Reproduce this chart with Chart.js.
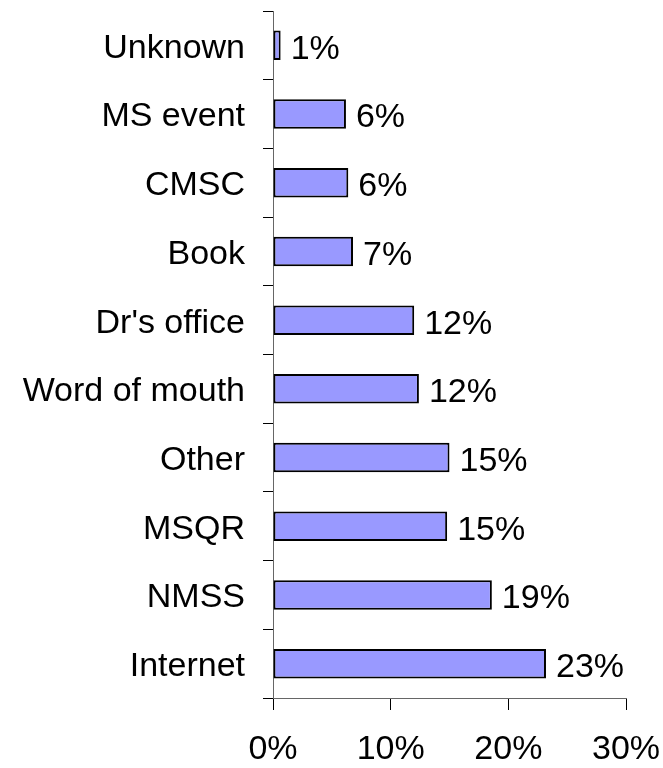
<!DOCTYPE html>
<html>
<head>
<meta charset="utf-8">
<script src="https://cdn.jsdelivr.net/npm/chart.js@4/dist/chart.umd.min.js"></script>
<style>
  html, body { margin: 0; padding: 0; background: #fff; }
  canvas { display: block; }
</style>
</head>
<body>
<canvas id="chart" width="663" height="768"></canvas>
<script>
// categories, top to bottom
const categories = ["Unknown", "MS event", "CMSC", "Book", "Dr's office", "Word of mouth", "Other", "MSQR", "NMSS", "Internet"];
// bar lengths (percent)
const shares = [0.65, 6.2, 6.4, 6.8, 12.0, 12.4, 15.0, 14.8, 18.6, 23.2];
// printed labels next to each bar
const shareLabels = ["1%", "6%", "6%", "7%", "12%", "12%", "15%", "15%", "19%", "23%"];
const xTicks = [0, 10, 20, 30];

const FONT = { family: "'Liberation Sans', Arial, sans-serif", size: 34 };

// --- value labels right of each bar ---
const valueLabels = {
  id: "valueLabels",
  afterDatasetsDraw(chart) {
    const ctx = chart.ctx;
    const meta = chart.getDatasetMeta(0);
    ctx.save();
    ctx.font = `${FONT.size}px ${FONT.family}`;
    ctx.fillStyle = "#000";
    ctx.textAlign = "left";
    ctx.textBaseline = "middle";
    meta.data.forEach((bar, i) => {
      ctx.fillText(shareLabels[i], bar.x + 10, bar.y + 4);
    });
    ctx.restore();
  }
};

new Chart(document.getElementById("chart"), {
  type: "bar",
  data: {
    labels: categories,
    datasets: [{
      data: shares,
      backgroundColor: "#9999FF",
      borderColor: "#000",
      borderWidth: 2,
      borderSkipped: false,
      categoryPercentage: 1,
      barPercentage: 0.43
    }]
  },
  options: {
    indexAxis: "y",
    responsive: false,
    animation: false,
    layout: { padding: { top: 11, right: 37, left: 0, bottom: 0 } },
    plugins: { legend: { display: false }, tooltip: { enabled: false } },
    scales: {
      x: {
        min: 0,
        max: 30,
        afterBuildTicks: (scale) => { scale.ticks = xTicks.map(v => ({ value: v })); },
        afterFit: (scale) => {
          scale.height = 70;
          scale.paddingLeft = 0;
          scale.paddingRight = 0;
        },
        ticks: {
          color: "#000",
          font: FONT,
          padding: 19,
          callback: (v) => v + "%"
        },
        grid: { drawOnChartArea: false, tickLength: 12, tickColor: "#000", tickWidth: 1 },
        border: { color: "#666", width: 1 }
      },
      y: {
        afterFit: (scale) => {
          scale.width = 273;
          scale.paddingTop = 0;
          scale.paddingBottom = 0;
        },
        ticks: { color: "#000", font: FONT, padding: 18, labelOffset: 3 },
        grid: { drawOnChartArea: false, tickLength: 10, tickColor: "#000", tickWidth: 1, offset: true },
        border: { color: "#666", width: 1 }
      }
    }
  },
  plugins: [valueLabels]
});
</script>
</body>
</html>
